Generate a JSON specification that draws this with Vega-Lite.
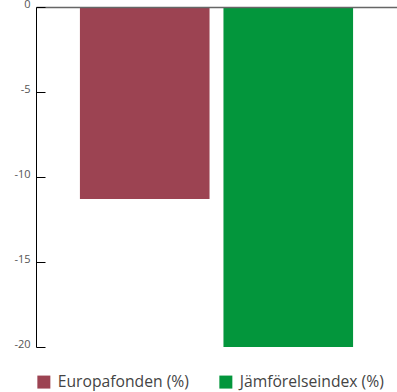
{
  "$schema": "https://vega.github.io/schema/vega-lite/v6.json",
  "width": 361,
  "height": 340,
  "autosize": {"type": "none"},
  "padding": {"left": 36, "top": 7, "right": 0, "bottom": 45},
  "background": "white",
  "config": {"view": {"stroke": null}},
  "data": {
    "values": [
      {"serie": "Europafonden (%)", "avkastning": -11.3},
      {"serie": "Jämförelseindex (%)", "avkastning": -20}
    ]
  },
  "mark": {"type": "bar", "clip": false},
  "encoding": {
    "x": {
      "field": "serie",
      "type": "nominal",
      "sort": null,
      "scale": {"paddingInner": 0.097, "paddingOuter": 0.306},
      "axis": {
        "orient": "top",
        "title": null,
        "labels": false,
        "ticks": false,
        "domainColor": "#666666",
        "domainWidth": 1.5,
        "zindex": 1
      }
    },
    "y": {
      "field": "avkastning",
      "type": "quantitative",
      "scale": {"domain": [-20, 0], "nice": false, "zero": true},
      "axis": {
        "title": null,
        "values": [0, -5, -10, -15, -20],
        "labelExpr": "'' + datum.value",
        "grid": false,
        "domainColor": "#000000",
        "domainWidth": 1,
        "tickColor": "#000000",
        "tickSize": -9,
        "labelPadding": 15,
        "labelOffset": -2.5,
        "labelColor": "#555555",
        "labelFont": "Open Sans",
        "labelFontSize": 11,
        "labelBaseline": "middle",
        "labelOverlap": false,
        "zindex": 1
      }
    },
    "color": {
      "field": "serie",
      "type": "nominal",
      "sort": null,
      "scale": {"range": ["#9c4352", "#03963c"]},
      "legend": {
        "title": null,
        "orient": "none",
        "legendX": 0,
        "legendY": 367,
        "direction": "horizontal",
        "symbolType": "square",
        "symbolSize": 169,
        "symbolStrokeWidth": 0,
        "labelFont": "Open Sans",
        "labelFontSize": 15.7,
        "labelColor": "#444444",
        "labelOffset": 6,
        "columnPadding": 29,
        "labelLimit": 300,
        "encode": {
          "symbols": {
            "update": {
              "fill": {"signal": "datum.value === 'Europafonden (%)' ? '#8c1f45' : '#0b8a3d'"},
              "opacity": {"value": 1}
            }
          }
        }
      }
    }
  }
}
